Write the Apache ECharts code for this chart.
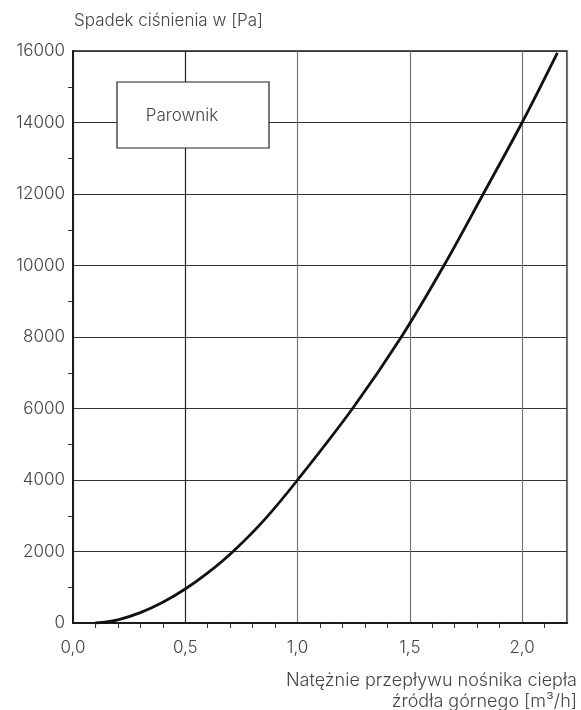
<!DOCTYPE html>
<html>
<head>
<meta charset="utf-8">
<script src="https://cdn.jsdelivr.net/npm/echarts@6/dist/echarts.min.js"></script>
<style>
  html, body { margin: 0; padding: 0; background: #fff; }
  #chart { width: 581px; height: 710px; }
</style>
</head>
<body>
<div id="chart"></div>
<script>
// Flow rate of the heat carrier [m³/h]
const flowRate = [0.10, 0.20, 0.30, 0.40, 0.50, 0.60, 0.713, 0.85, 1.00, 1.245, 1.462, 1.652, 1.827, 2.000, 2.157];
// Pressure drop [Pa]
const pressureDrop = [0, 90, 290, 580, 950, 1400, 2000, 2870, 4000, 6000, 8000, 10000, 12000, 14000, 15950];

const yTitle = 'Spadek ciśnienia w [Pa]';
const xTitleLine1 = 'Natężnie przepływu nośnika ciepła';
const xTitleLine2 = 'źródła górnego [m³/h]';
const boxLabel = 'Parownik';

const FONT = 'Inter, "Noto Sans", sans-serif';
const TEXT = '#444';

const chart = echarts.init(document.getElementById('chart'), null, { renderer: 'canvas' });

chart.setOption({
  animation: false,
  backgroundColor: '#fff',
  grid: {
    left: 73, right: 14, top: 51, bottom: 87,
    show: true, borderColor: '#1a1a1a', borderWidth: 1.5, backgroundColor: 'transparent'
  },
  xAxis: {
    type: 'value',
    min: 0, max: 2.2, interval: 0.5,
    axisLine: { show: true, lineStyle: { color: '#1a1a1a', width: 2 } },
    axisTick: { show: false },
    minorTick: { show: true, splitNumber: 5, length: 5, lineStyle: { color: '#333', width: 1 } },
    splitLine: { show: true, lineStyle: { color: ['#777', '#222', '#777', '#777', '#777'], width: 1.2 } },
    axisLabel: {
      showMaxLabel: false,
      color: TEXT, fontFamily: FONT, fontSize: 17, fontWeight: 300, margin: 16,
      formatter: v => v.toFixed(1).replace('.', ',')
    }
  },
  yAxis: {
    type: 'value',
    min: 0, max: 16000, interval: 2000,
    axisLine: { show: true, lineStyle: { color: '#1a1a1a', width: 2 } },
    axisTick: { show: false },
    minorTick: { show: true, splitNumber: 2, length: 5, lineStyle: { color: '#333', width: 1 } },
    splitLine: { show: true, lineStyle: { color: '#333', width: 1.2 } },
    axisLabel: {
      color: TEXT, fontFamily: FONT, fontSize: 17, fontWeight: 300, margin: 8,
      formatter: v => String(v)
    }
  },
  series: [{
    type: 'line',
    data: flowRate.map((x, i) => [x, pressureDrop[i]]),
    smooth: 0.35,
    showSymbol: false,
    lineStyle: { color: '#111', width: 2.8 },
    z: 5
  }],
  graphic: [
    {
      type: 'text', x: 74, y: 21, z: 100,
      style: { text: yTitle, fill: TEXT, font: '300 17px ' + FONT, verticalAlign: 'middle' }
    },
    {
      type: 'rect', z: 100, shape: { x: 117, y: 82, width: 152, height: 66 },
      style: { fill: '#fff', stroke: '#222', lineWidth: 1.2 }
    },
    {
      type: 'text', x: 182, y: 116, z: 101,
      style: { text: boxLabel, fill: TEXT, font: '300 17px ' + FONT, align: 'center', verticalAlign: 'middle' }
    },
    {
      type: 'text', x: 577, y: 681, z: 100,
      style: { text: xTitleLine1, fill: TEXT, font: '300 18px ' + FONT, align: 'right', verticalAlign: 'middle' }
    },
    {
      type: 'text', x: 577, y: 702, z: 100,
      style: { text: xTitleLine2, fill: TEXT, font: '300 18px ' + FONT, align: 'right', verticalAlign: 'middle' }
    }
  ]
});
</script>
</body>
</html>
